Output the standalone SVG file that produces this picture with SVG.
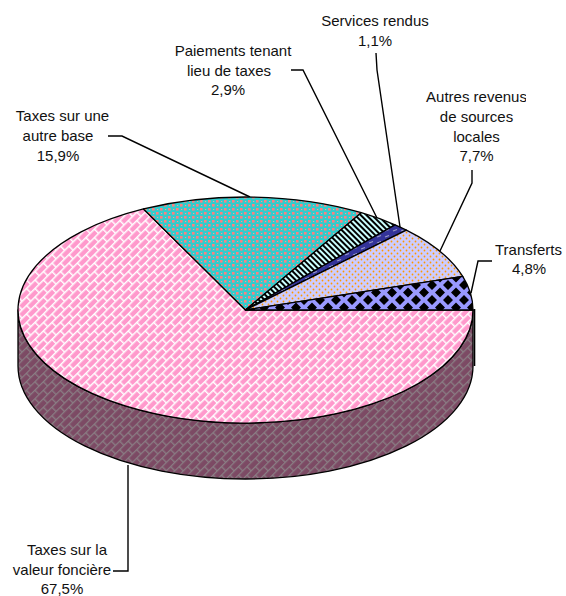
<svg xmlns="http://www.w3.org/2000/svg" width="566" height="596" viewBox="0 0 566 596">
<style>
.lbl{font-family:"Liberation Sans",Arial,sans-serif;font-size:15px;fill:#111;text-anchor:middle}
.sl{stroke:#000;stroke-width:1.3;stroke-linejoin:round}
.ld{fill:none;stroke:#000;stroke-width:1.4}
</style>
<defs>
<pattern id="pBrick" patternUnits="userSpaceOnUse" width="12" height="12" patternTransform="rotate(-45)">
<rect width="12" height="12" fill="#FF99CC"/>
<path d="M0 0.7H12M0 6.7H12M0.7 0V6M6.7 6V12" stroke="#FFFFFF" stroke-width="1.5" fill="none"/>
</pattern>
<pattern id="pBrickSide" patternUnits="userSpaceOnUse" width="12" height="12" patternTransform="rotate(-45)">
<rect width="12" height="12" fill="#7C4A64"/>
<path d="M0 0.7H12M0 6.7H12M0.7 0V6M6.7 6V12" stroke="#8A7E84" stroke-width="1.3" fill="none"/>
</pattern>
<pattern id="pSphere" patternUnits="userSpaceOnUse" width="8" height="8">
<rect width="8" height="8" fill="#33CCCC"/>
<rect x="0" y="0" width="2.6" height="2.6" fill="#FF8080"/>
<rect x="4" y="4" width="2.6" height="2.6" fill="#FF8080"/>
<rect x="5" y="1" width="1.2" height="1" fill="#FF9999"/>
<rect x="1" y="5" width="1.2" height="1" fill="#FF9999"/>
</pattern>
<pattern id="pStripe" patternUnits="userSpaceOnUse" width="4" height="4" patternTransform="rotate(-45)">
<rect width="4" height="4" fill="#000"/>
<rect width="2" height="4" fill="#CCFFFF"/>
</pattern>
<pattern id="pDash" patternUnits="userSpaceOnUse" width="8" height="6">
<rect width="8" height="6" fill="#333399"/>
<path d="M1 3L5 1.5" stroke="#9A9AC8" stroke-width="1.2"/>
</pattern>
<pattern id="pDots" patternUnits="userSpaceOnUse" width="6" height="6">
<rect width="6" height="6" fill="#CCCCFF"/>
<circle cx="1.5" cy="1.5" r="0.9" fill="#FF9900"/>
<circle cx="4.5" cy="4.5" r="0.9" fill="#FF9900"/>
</pattern>
<pattern id="pDiamond" patternUnits="userSpaceOnUse" width="16" height="15">
<rect width="16" height="15" fill="#9999FF"/>
<path d="M8 2.5L13 7.5L8 12.5L3 7.5Z M0 -5L5 0L0 5L-5 0Z M16 -5L21 0L16 5L11 0Z M0 10L5 15L0 20L-5 15Z M16 10L21 15L16 20L11 15Z" fill="#000"/>
</pattern>
<clipPath id="clipL"><rect x="0" y="100" width="109" height="80"/></clipPath>
<clipPath id="clipR"><rect x="400" y="80" width="126" height="100"/></clipPath>
</defs>

<g id="connectors">
<polyline class="ld" points="108,136 122,136 250,197"/>
<polyline class="ld" points="291,70 303,70 377,218"/>
<polyline class="ld" points="376,53 377,70 400,227"/>
<polyline class="ld" points="472,170 472,183 440,251"/>
<polyline class="ld" points="492,261 478,261 471,293"/>
<polyline class="ld" points="113,571 128,571 128,465"/>
</g>

<g id="slice-fonciere">
<path class="sl" fill="url(#pBrickSide)" d="M18 310L18 366A227.5 113 0 0 0 473 366L473 310A227.5 113 0 0 1 18 310Z"/>
<path d="M474.5 309V366" stroke="#000" stroke-width="1.6"/>
<path class="sl" fill="url(#pBrick)" d="M245.5 310L143.49 208.99A227.5 113 0 1 0 473 310Z"/>
<text class="lbl"><tspan x="67" y="555">Taxes sur la</tspan><tspan x="62" y="575">valeur foncière</tspan><tspan x="62" y="594">67,5%</tspan></text>
</g>

<g id="slice-autre-base">
<path class="sl" fill="url(#pSphere)" d="M245.5 310L361.31 212.74A227.5 113 0 0 0 143.49 208.99Z"/>
<g clip-path="url(#clipL)"><text class="lbl"><tspan x="62.5" y="121">Taxes sur une</tspan><tspan x="58" y="141">autre base</tspan><tspan x="58" y="161">15,9%</tspan></text></g>
</g>

<g id="slice-paiements">
<path class="sl" fill="url(#pStripe)" d="M245.5 310L395.03 224.84A227.5 113 0 0 0 361.31 212.74Z"/>
<text class="lbl"><tspan x="233" y="56">Paiements tenant</tspan><tspan x="229" y="75.5">lieu de taxes</tspan><tspan x="228" y="95">2,9%</tspan></text>
</g>

<g id="slice-services">
<path class="sl" fill="url(#pDash)" d="M245.5 310L406.37 230.1A227.5 113 0 0 0 395.03 224.84Z"/>
<text class="lbl"><tspan x="375" y="26">Services rendus</tspan><tspan x="375" y="45.5">1,1%</tspan></text>
</g>

<g id="slice-autres">
<path class="sl" fill="url(#pDots)" d="M245.5 310L462.73 276.43A227.5 113 0 0 0 406.37 230.1Z"/>
<g clip-path="url(#clipR)"><text class="lbl"><tspan x="476.5" y="102">Autres revenus</tspan><tspan x="476.5" y="122">de sources</tspan><tspan x="476.5" y="141.5">locales</tspan><tspan x="476.5" y="161">7,7%</tspan></text></g>
</g>

<g id="slice-transferts">
<path class="sl" fill="url(#pDiamond)" d="M245.5 310L473 310A227.5 113 0 0 0 462.73 276.43Z"/>
<text class="lbl"><tspan x="528.5" y="255">Transferts</tspan><tspan x="529" y="274">4,8%</tspan></text>
</g>
</svg>
